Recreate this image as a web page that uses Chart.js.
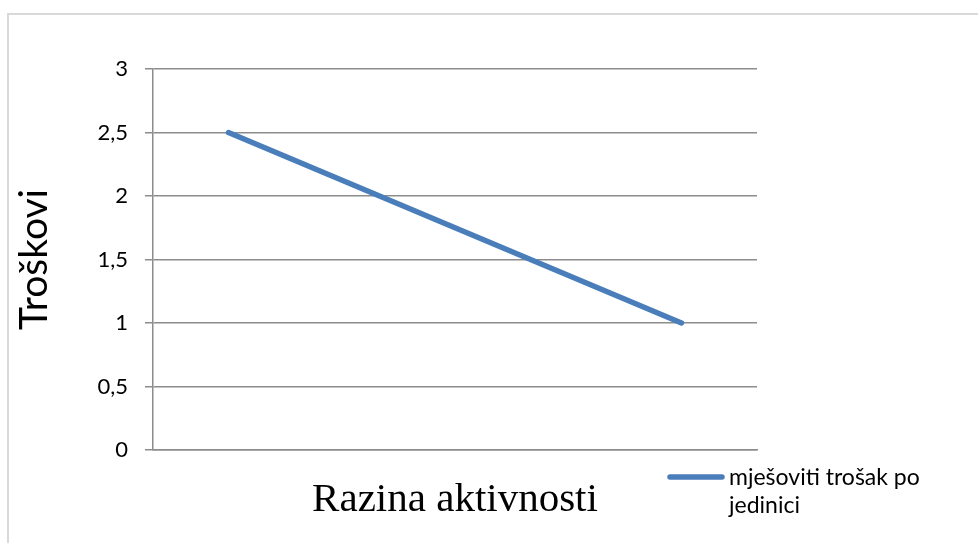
<!DOCTYPE html>
<html>
<head>
<meta charset="utf-8">
<script src="https://cdn.jsdelivr.net/npm/chart.js@4"></script>
<style>
html,body{margin:0;padding:0;background:#fff;}
#wrap{position:relative;width:978px;height:543px;}
</style>
</head>
<body>
<div id="wrap"><canvas id="c" width="978" height="543"></canvas></div>
<script>
const categories = ['', '', '', ''];
const seriesName = 'mješoviti trošak po jedinici';
const seriesValues = [2.5, 2, 1.5, 1];
const yTicks = [0, 0.5, 1, 1.5, 2, 2.5, 3];
const yTitle = 'Troškovi';
const xTitle = 'Razina aktivnosti';
const legendLines = ['mješoviti trošak po', 'jedinici'];

const lineColor = '#4a7ebb';
const gridColor = '#8c8c8c';

const frame = {
  id: 'frame',
  beforeDraw(chart) {
    const ctx = chart.ctx;
    ctx.save();
    ctx.strokeStyle = '#d9d9d9';
    ctx.lineWidth = 2;
    ctx.beginPath();
    ctx.moveTo(8, 560);
    ctx.lineTo(8, 14);
    ctx.lineTo(990, 14);
    ctx.stroke();
    ctx.restore();
  }
};

const customLegend = {
  id: 'customLegend',
  afterDraw(chart) {
    const ctx = chart.ctx;
    const ds = chart.data.datasets[0];
    ctx.save();
    ctx.strokeStyle = ds.borderColor;
    ctx.lineWidth = ds.borderWidth;
    ctx.lineCap = 'round';
    ctx.beginPath();
    ctx.moveTo(670, 477);
    ctx.lineTo(722, 477);
    ctx.stroke();
    ctx.fillStyle = '#000';
    ctx.font = '23px Lato';
    ctx.textBaseline = 'middle';
    ctx.textAlign = 'left';
    legendLines.forEach((t, i) => ctx.fillText(t, 729, 478 + i * 28));
    ctx.restore();
  }
};

new Chart(document.getElementById('c'), {
  type: 'line',
  data: {
    labels: categories,
    datasets: [{
      label: seriesName,
      data: seriesValues,
      borderColor: lineColor,
      backgroundColor: lineColor,
      borderWidth: 5.5,
      borderCapStyle: 'round',
      pointRadius: 0,
      pointHoverRadius: 0,
      tension: 0,
      fill: false
    }]
  },
  options: {
    responsive: false,
    animation: false,
    events: [],
    layout: { padding: { left: 0, right: 221, top: 69, bottom: 0 } },
    plugins: { legend: { display: false }, tooltip: { enabled: false } },
    scales: {
      x: {
        type: 'category',
        offset: true,
        grid: { display: false, drawTicks: false },
        border: { display: true, color: gridColor, width: 1.5 },
        ticks: { display: false },
        title: {
          display: true,
          text: xTitle,
          color: '#000',
          font: { family: 'Liberation Serif', size: 41 },
          padding: { top: 0, bottom: 18 }
        },
        afterFit(scale) { scale.height = 93; }
      },
      y: {
        min: 0,
        max: 3,
        afterBuildTicks(scale) { scale.ticks = yTicks.map(v => ({ value: v })); },
        ticks: {
          color: '#000',
          font: { family: 'Lato', size: 22 },
          padding: 17,
          callback: v => String(v).replace('.', ',')
        },
        grid: { color: gridColor, lineWidth: 1.5, tickLength: 8, drawTicks: true },
        border: { display: true, color: gridColor, width: 1.5 },
        title: {
          display: true,
          text: yTitle,
          color: '#000',
          font: { family: 'Lato', size: 39 },
          padding: { top: 11, bottom: 0 }
        },
        afterFit(scale) { scale.width = 153; }
      }
    }
  },
  plugins: [frame, customLegend]
});
</script>
</body>
</html>
